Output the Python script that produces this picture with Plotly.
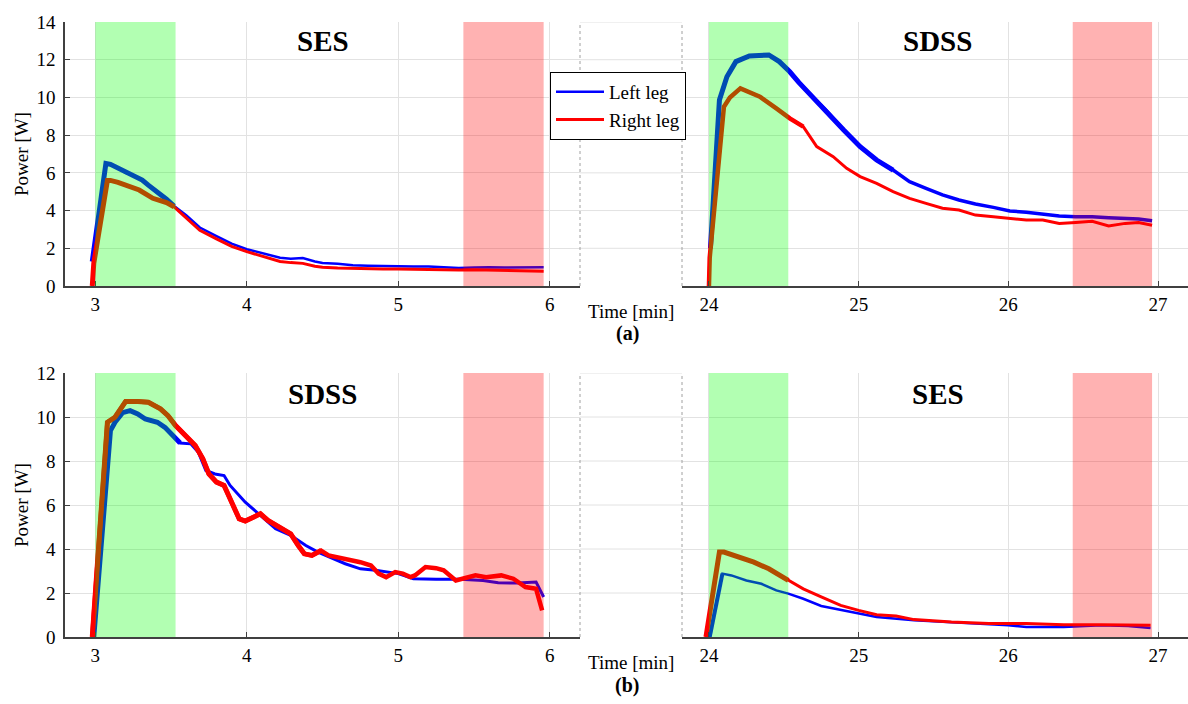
import plotly.graph_objects as go

# ---------------- data ----------------
# Panel (a) left: SES, 3-6 min
a_ses_left_t = [2.98, 3.07, 3.10, 3.15, 3.20, 3.25, 3.31, 3.35, 3.42, 3.47, 3.52, 3.60, 3.69, 3.80, 3.90, 4.00,
                4.10, 4.22, 4.29, 4.37, 4.45, 4.50, 4.60, 4.70, 4.80, 4.90, 5.00, 5.10, 5.20, 5.30, 5.40,
                5.50, 5.60, 5.70, 5.80, 5.90, 5.96]
a_ses_left_p = [1.30, 6.50, 6.45, 6.25, 6.00, 5.85, 5.62, 5.35, 4.95, 4.60, 4.24, 3.75, 3.10, 2.65, 2.25, 1.95,
                1.75, 1.50, 1.45, 1.48, 1.30, 1.22, 1.18, 1.10, 1.07, 1.05, 1.04, 1.03, 1.04, 1.00, 0.95,
                0.98, 1.00, 0.98, 1.00, 1.02, 1.00]
a_ses_right_t = [2.98, 2.99, 3.08, 3.10, 3.15, 3.20, 3.29, 3.38, 3.47, 3.52, 3.60, 3.69, 3.80, 3.90, 4.00, 4.10,
                 4.22, 4.29, 4.37, 4.45, 4.50, 4.60, 4.70, 4.80, 4.90, 5.00, 5.10, 5.20, 5.30, 5.40, 5.50,
                 5.60, 5.70, 5.80, 5.90, 5.96]
a_ses_right_p = [0.00, 1.20, 5.60, 5.60, 5.50, 5.36, 5.09, 4.65, 4.42, 4.20, 3.60, 2.95, 2.50, 2.10, 1.82, 1.58,
                 1.30, 1.24, 1.20, 1.05, 1.00, 0.95, 0.92, 0.93, 0.90, 0.90, 0.88, 0.86, 0.86, 0.85, 0.86,
                 0.85, 0.84, 0.82, 0.80, 0.78]

# Panel (a) right: SDSS, 24-27 min
a_sdss_left_t = [24.01, 24.07, 24.12, 24.18, 24.27, 24.33, 24.40, 24.47, 24.54, 24.60, 24.67, 24.78, 24.90,
                 25.01, 25.12, 25.23, 25.34, 25.45, 25.56, 25.67, 25.78, 25.90, 26.01, 26.12, 26.23, 26.34,
                 26.45, 26.56, 26.67, 26.78, 26.87, 26.96]
a_sdss_left_p = [2.00, 9.86, 11.10, 11.90, 12.20, 12.20, 12.25, 11.90, 11.36, 10.80, 10.20, 9.33, 8.27,
                 7.39, 6.68, 6.15, 5.53, 5.18, 4.83, 4.56, 4.35, 4.17, 3.98, 3.91, 3.80, 3.71,
                 3.67, 3.67, 3.62, 3.59, 3.55, 3.46]
a_sdss_right_t = [24.00, 24.005, 24.10, 24.14, 24.21, 24.34, 24.45, 24.54, 24.63, 24.72, 24.83, 24.92, 25.01,
                  25.12, 25.23, 25.34, 25.45, 25.56, 25.67, 25.78, 25.90, 26.01, 26.12, 26.23, 26.34, 26.45,
                  26.56, 26.67, 26.78, 26.87, 26.96]
a_sdss_right_p = [0.00, 1.50, 9.50, 10.00, 10.48, 10.04, 9.42, 8.89, 8.45, 7.39, 6.86, 6.24, 5.80,
                  5.44, 5.00, 4.65, 4.38, 4.12, 4.03, 3.76, 3.67, 3.59, 3.50, 3.50, 3.32, 3.37,
                  3.43, 3.18, 3.32, 3.37, 3.22]

# Panel (b) left: SDSS, 3-6 min
b_sdss_left_t = [2.99, 3.10, 3.13, 3.18, 3.23, 3.28, 3.33, 3.41, 3.46, 3.53, 3.56, 3.63, 3.68, 3.73, 3.79,
                 3.85, 3.89, 3.99, 4.09, 4.19, 4.29, 4.39, 4.47, 4.57, 4.65, 4.75, 4.85, 5.00, 5.10, 5.25,
                 5.41, 5.56, 5.66, 5.79, 5.91, 5.96]
b_sdss_left_p = [0.00, 9.38, 9.76, 10.20, 10.29, 10.14, 9.91, 9.76, 9.53, 9.00, 8.82, 8.78, 8.40, 7.57, 7.41,
                 7.34, 6.89, 6.13, 5.52, 4.92, 4.62, 4.16, 3.86, 3.56, 3.33, 3.10, 3.03, 2.88, 2.65, 2.62,
                 2.62, 2.57, 2.47, 2.45, 2.50, 1.82]
b_sdss_right_t = [2.98, 3.08, 3.13, 3.20, 3.28, 3.35, 3.43, 3.48, 3.53, 3.61, 3.66, 3.71, 3.75, 3.80, 3.85,
                  3.89, 3.95, 3.99, 4.04, 4.09, 4.14, 4.22, 4.29, 4.34, 4.38, 4.43, 4.49, 4.54, 4.60, 4.65,
                  4.75, 4.82, 4.87, 4.92, 4.98, 5.03, 5.08, 5.11, 5.18, 5.25, 5.30, 5.38, 5.46, 5.51, 5.58,
                  5.68, 5.76, 5.84, 5.91, 5.95]
b_sdss_right_p = [0.00, 9.76, 9.99, 10.70, 10.70, 10.67, 10.37, 10.06, 9.61, 9.08, 8.70, 8.10, 7.41, 7.04, 6.89,
                  6.28, 5.37, 5.27, 5.45, 5.60, 5.30, 4.99, 4.69, 4.16, 3.78, 3.71, 3.93, 3.71, 3.63, 3.56,
                  3.40, 3.25, 2.88, 2.72, 2.95, 2.88, 2.72, 2.80, 3.18, 3.13, 3.03, 2.57, 2.72, 2.80, 2.72,
                  2.80, 2.65, 2.27, 2.19, 1.21]

# Panel (b) right: SES, 24-27 min
b_ses_left_t = [24.005, 24.09, 24.15, 24.25, 24.35, 24.45, 24.53, 24.63, 24.75, 24.88, 25.00, 25.12, 25.37,
                25.62, 25.87, 26.00, 26.12, 26.37, 26.62, 26.80, 26.95]
b_ses_left_p = [0.00, 2.88, 2.80, 2.57, 2.42, 2.12, 1.97, 1.74, 1.41, 1.24, 1.10, 0.91, 0.76,
                0.68, 0.58, 0.53, 0.45, 0.45, 0.53, 0.50, 0.41]
b_ses_right_t = [23.98, 24.07, 24.10, 24.20, 24.30, 24.40, 24.53, 24.63, 24.75, 24.88, 25.00, 25.12, 25.25,
                 25.37, 25.62, 25.87, 26.12, 26.37, 26.62, 26.80, 26.95]
b_ses_right_p = [0.00, 3.86, 3.86, 3.63, 3.40, 3.10, 2.57, 2.19, 1.82, 1.44, 1.21, 1.01, 0.95,
                 0.79, 0.68, 0.61, 0.61, 0.56, 0.56, 0.55, 0.53]

# shaded analysis windows (min)
onset_windows = [(3.0, 3.53), (24.0, 24.53)]
end_windows = [(5.43, 5.96), (26.43, 26.96)]

series_names = ["Left leg", "Right leg"]
panel_titles = ["SES", "SDSS", "SDSS", "SES"]
panel_letters = ["(a)", "(b)"]
ticks_left = [3, 4, 5, 6]
ticks_right = [24, 25, 26, 27]
yticks_a = [0, 2, 4, 6, 8, 10, 12, 14]
yticks_b = [0, 2, 4, 6, 8, 10, 12]

# ---------------- styling ----------------
W, H = 1188, 704
FONT = "Liberation Serif, Times New Roman, serif"
BLUE = "rgb(0,0,255)"
RED = "rgb(255,0,0)"
GRID = "#e2e2e2"
AXIS = "#404040"

def px(x):
    return x / W

def py(y):
    return 1 - y / H

xl_dom = [px(65), px(580)]
xr_dom = [px(682), 1.0]
ya_dom = [py(286), py(22)]
yb_dom = [py(637), py(373)]

fig = go.Figure()

# (x axis id, y axis id, t, p, colour, name, main width, thick width, thick until)
traces = [
    ("x", "y", a_ses_left_t, a_ses_left_p, BLUE, 0, 2.5, 5, 3.55),
    ("x", "y", a_ses_right_t, a_ses_right_p, RED, 1, 3.0, 5, 3.55),
    ("x2", "y2", a_sdss_left_t, a_sdss_left_p, BLUE, 0, 3.5, 5, 25.3),
    ("x2", "y2", a_sdss_right_t, a_sdss_right_p, RED, 1, 3.0, 4.5, 24.65),
    ("x3", "y3", b_sdss_left_t, b_sdss_left_p, BLUE, 0, 3.0, 5, 3.56),
    ("x3", "y3", b_sdss_right_t, b_sdss_right_p, RED, 1, 4.5, 5, 4.5),
    ("x4", "y4", b_ses_left_t, b_ses_left_p, BLUE, 0, 2.5, 4, 24.1),
    ("x4", "y4", b_ses_right_t, b_ses_right_p, RED, 1, 3.0, 5, 24.55),
]

shown = set()
for xa, ya, t, p, col, ni, w_main, w_thick, t_cut in traces:
    name = series_names[ni]
    show = name not in shown
    shown.add(name)
    fig.add_trace(go.Scatter(x=t, y=p, mode="lines", xaxis=xa, yaxis=ya, name=name,
                             legendgroup=name, showlegend=show,
                             line=dict(color=col, width=w_main)))
    tt = [v for v in t if v <= t_cut]
    pp = [p[i] for i, v in enumerate(t) if v <= t_cut]
    fig.add_trace(go.Scatter(x=tt, y=pp, mode="lines", xaxis=xa, yaxis=ya, name=name,
                             legendgroup=name, showlegend=False, hoverinfo="skip",
                             line=dict(color=col, width=w_thick)))

tickfont = dict(family=FONT, size=19, color="black")

def xaxis(dom, rng, ticks, anchor):
    return dict(domain=dom, range=rng, tickvals=ticks, anchor=anchor, showgrid=True, gridcolor=GRID,
                gridwidth=1, zeroline=False, showline=True, linecolor=AXIS, linewidth=1.5,
                ticks="inside", ticklen=5, tickcolor=AXIS, tickfont=tickfont, fixedrange=True)

def yaxis(dom, yt, anchor, left):
    d = dict(domain=dom, range=[0, yt[-1]], tickvals=yt, anchor=anchor, showgrid=True, gridcolor=GRID,
             gridwidth=1, zeroline=False, tickfont=tickfont, fixedrange=True)
    if left:
        d.update(showline=True, linecolor=AXIS, linewidth=1.5, ticks="inside", ticklen=5, tickcolor=AXIS,
                 ticklabelstandoff=4)
    else:
        d.update(showline=False, showticklabels=False, ticks="")
    return d

fig.update_layout(
    xaxis=xaxis(xl_dom, [2.8, 6.2], ticks_left, "y"),
    yaxis=yaxis(ya_dom, yticks_a, "x", True),
    xaxis2=xaxis(xr_dom, [23.82, 27.2], ticks_right, "y2"),
    yaxis2=yaxis(ya_dom, yticks_a, "x2", False),
    xaxis3=xaxis(xl_dom, [2.8, 6.2], ticks_left, "y3"),
    yaxis3=yaxis(yb_dom, yticks_b, "x3", True),
    xaxis4=xaxis(xr_dom, [23.82, 27.2], ticks_right, "y4"),
    yaxis4=yaxis(yb_dom, yticks_b, "x4", False),
)

shapes = []
# gridlines through the axis break, and dotted break lines
for yref, yt in (("y", yticks_a), ("y3", yticks_b)):
    for v in yt[1:]:
        shapes.append(dict(type="line", xref="paper", yref=yref, x0=px(580), x1=px(682), y0=v, y1=v,
                           line=dict(color=GRID, width=1), layer="below"))
    for xb in (580, 682):
        shapes.append(dict(type="line", xref="paper", yref=yref + " domain", x0=px(xb), x1=px(xb),
                           y0=0, y1=1, line=dict(color="#a0a0a0", width=1, dash="dot")))
# shaded windows drawn over the lines
for xa, ya in (("x", "y"), ("x2", "y2"), ("x3", "y3"), ("x4", "y4")):
    for (a, b) in onset_windows + end_windows:
        is_on = (a, b) in onset_windows
        shapes.append(dict(type="rect", xref=xa, yref=ya + " domain", x0=a, x1=b, y0=0, y1=1,
                           fillcolor="rgb(0,255,0)" if is_on else "rgb(255,0,0)", opacity=0.3,
                           line=dict(width=0), layer="above"))
fig.update_layout(shapes=shapes)

ann = []
title_pos = [("x", "y", 4.5, 13.0), ("x2", "y2", 25.53, 13.0), ("x3", "y3", 4.5, 11.05), ("x4", "y4", 25.53, 11.05)]
for (xa, ya, xv, yv), txt in zip(title_pos, panel_titles):
    ann.append(dict(xref=xa, yref=ya, x=xv, y=yv, text="<b>%s</b>" % txt, showarrow=False,
                    font=dict(family=FONT, size=29, color="black"), xanchor="center", yanchor="middle"))
for ybase, letter in ((286, panel_letters[0]), (637, panel_letters[1])):
    ann.append(dict(xref="paper", yref="paper", x=px(631), y=py(ybase + 25), text="Time [min]",
                    showarrow=False, font=dict(family=FONT, size=19, color="black"),
                    xanchor="center", yanchor="middle"))
    ann.append(dict(xref="paper", yref="paper", x=px(627), y=py(ybase + 48), text="<b>%s</b>" % letter,
                    showarrow=False, font=dict(family=FONT, size=20, color="black"),
                    xanchor="center", yanchor="middle"))
for ymid in ((22 + 286) / 2, (373 + 637) / 2):
    ann.append(dict(xref="paper", yref="paper", x=px(21), y=py(ymid), text="Power [W]", textangle=-90,
                    showarrow=False, font=dict(family=FONT, size=19, color="black"),
                    xanchor="center", yanchor="middle"))
fig.update_layout(annotations=ann)

fig.update_layout(
    width=W, height=H, margin=dict(l=0, r=0, t=0, b=0, autoexpand=False),
    paper_bgcolor="white", plot_bgcolor="white",
    font=dict(family=FONT, size=19, color="black"),
    showlegend=True,
    legend=dict(x=px(550), y=py(72), xanchor="left", yanchor="top", bgcolor="white",
                bordercolor="black", borderwidth=1, font=dict(family=FONT, size=19, color="black"),
                itemwidth=48, tracegroupgap=0),
)

fig.write_html("out.html", config={"displayModeBar": False},
               post_script="document.body.style.margin='0px';")
